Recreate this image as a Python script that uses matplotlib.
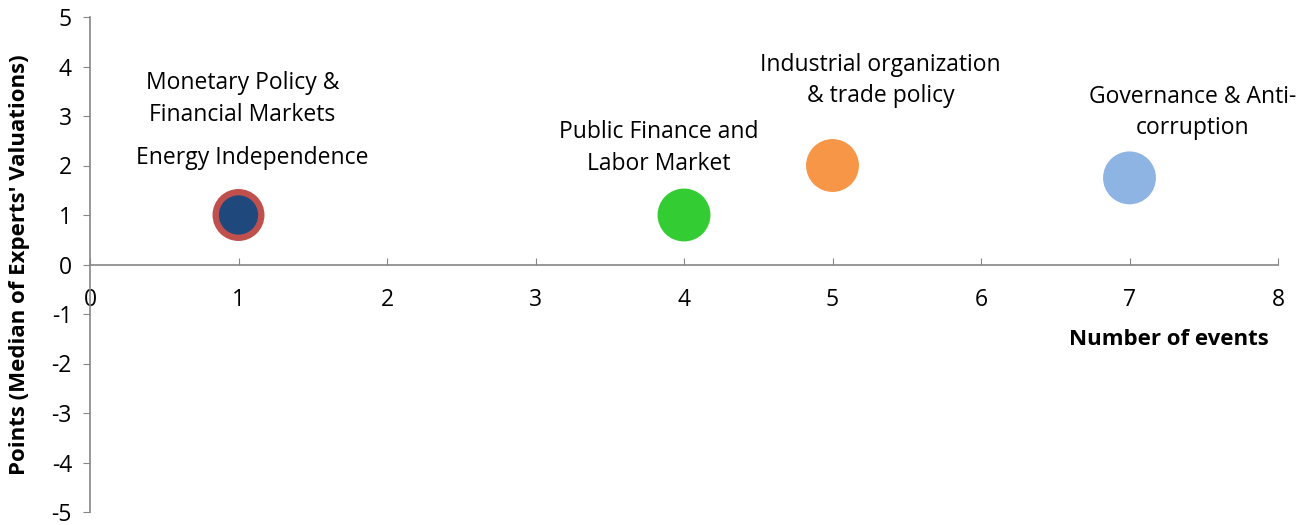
import matplotlib
matplotlib.use('agg')
import matplotlib.pyplot as plt

# bubble data: number of events vs median points
topics = ["Monetary Policy &\nFinancial Markets", "Energy Independence",
          "Public Finance and\nLabor Market", "Industrial organization\n& trade policy",
          "Governance & Anti-\ncorruption"]
events = [1, 1, 4, 5, 7]
points = [1, 1, 1, 2, 1.75]
sizes = [1400, 800, 1450, 1450, 1450]
colors = ["#C0504D", "#1F497D", "#33CC33", "#F79646", "#8DB4E2"]
# label offsets in pixels from bubble centre
offsets = [(4, 116), (14, 57), (-25, 67), (48, 85), (63, 65)]

plt.rcParams['font.family'] = ['Open Sans', 'DejaVu Sans']
plt.rcParams['axes.unicode_minus'] = False

fig = plt.figure(figsize=(13.1, 5.25), dpi=100)
ax = fig.add_axes([90 / 1310, 13 / 525, 1188 / 1310, 495 / 525])

ax.scatter(events, points, s=sizes, c=colors, linewidths=0, zorder=3)

for name, x, y, off in zip(topics, events, points, offsets):
    ax.annotate(name, xy=(x, y), xytext=off, textcoords='offset pixels',
                ha='center', va='center', fontsize=16.5, linespacing=1.4)

ax.set_xlim(0, 8)
ax.set_ylim(-5, 5)
ax.set_xticks(range(0, 9))
ax.set_yticks(range(-5, 6))

ax.spines['bottom'].set_position(('data', 0))
ax.spines['top'].set_visible(False)
ax.spines['right'].set_visible(False)
for s in ['left', 'bottom']:
    ax.spines[s].set_color('#868686')
    ax.spines[s].set_linewidth(1.2)

ax.tick_params(axis='x', direction='in', length=5, color='#868686', pad=17, labelsize=16.5)
ax.tick_params(axis='y', direction='out', length=5, color='#868686', pad=8, labelsize=16.5)

ax.set_xlabel("Number of events", fontsize=16, fontweight='bold')
ax.xaxis.set_label_coords(0.908, 0.348)
ax.xaxis.label.set_va('center')
ax.set_ylabel("Points (Median of Experts' Valuations)", fontsize=16, fontweight='bold')
ax.yaxis.set_label_coords(-0.059, 0.5)
ax.yaxis.label.set_va('center')

fig.savefig("out.png", dpi=100)
